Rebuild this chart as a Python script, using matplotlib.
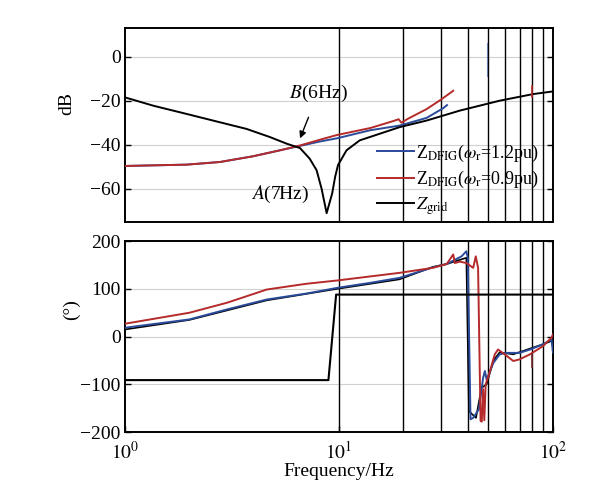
import numpy as np
import matplotlib
matplotlib.use("Agg")
from matplotlib import pyplot as plt

plt.rcParams['font.family'] = ['Liberation Serif', 'DejaVu Serif']
plt.rcParams['mathtext.fontset'] = 'stix'
plt.rcParams['axes.unicode_minus'] = True

# magnitude (dB)
f_grid = [1, 1.36, 1.94, 2.78, 3.7, 4.76, 5.7, 6.58, 7.3, 7.86, 8.3, 8.76,
          9.3, 9.6, 9.9, 10.85, 12.5, 15.5, 19.2, 25.7, 36.7, 56.4, 80.8, 100]
mag_grid = [-18.5, -22.3, -26, -29.8, -32.8, -36.5, -39.5, -41.5, -46.3,
            -51.5, -60, -71, -62, -54.5, -49.2, -42.5, -38, -35, -32, -29,
            -24.5, -20, -17, -15.8]

f_mag_red = [1, 1.94, 2.78, 3.97, 5.3, 6.58, 8.15, 9.75, 14, 18, 19, 19.6, 21,
             25.7, 30, 34.2]
mag_red = [-49.6, -49, -47.8, -45.2, -42.5, -40.3, -37.7, -35.6, -32.4, -29.2,
           -28.4, -30.0, -28.2, -23.8, -19.5, -15.5]

f_mag_blue = [1, 1.94, 2.78, 3.97, 5.3, 6.58, 8.15, 9.75, 14, 19.2, 25.7, 30.6, 32]
mag_blue = [-49.6, -49, -47.8, -45.2, -42.5, -40.5, -38.5, -37.1, -33.4,
            -31.3, -27.8, -23.5, -22]

# stray spikes
f_spike_red_mag = [79.6, 79.6]
spike_red_mag = [-13.5, -18.5]
f_spike_blue_mag = [49, 49]
spike_blue_mag = [6, -9]

# phase (deg)
f_ph_red = [1, 2, 3, 4.6, 7, 9.8, 14, 19.2, 27.5, 31.9, 34.2, 34.8, 36.7, 39.4,
            42.4, 43.6, 44.7, 45.9, 46.5, 47.2, 47.8, 48.5, 50.8, 53.5, 55.4,
            59.5, 65.3, 69.8, 78.2, 89.9, 98.5, 100]
ph_red = [27, 50, 71, 98.6, 110.5, 117.5, 126, 133.5, 144, 152, 172, 154, 157,
          154, 144, 168, 144, -176, -178, -110, -175, -100, -72, -37, -27,
          -37, -51, -47.6, -37, -19.8, -2.3, 4.6]

f_ph_blue = [1, 2, 3, 4.6, 7, 9.8, 14, 19.2, 27.5, 31.9, 37.4, 39.4, 40, 41.2,
             42.4, 45.1, 47.2, 48.1, 49, 52.7, 56.4, 60.7, 69.8, 78.2, 89.9,
             98.5, 100]
ph_blue = [18.6, 36, 57, 77.7, 90, 102, 112.6, 123, 145, 152, 168, 178.7, 165,
           -173, -170, -152, -86, -72, -90, -55, -37, -34, -34, -27, -16, -6, -33]

f_ph_dark = [1, 2, 4.6, 9.8, 19.2, 27.5, 31.9, 39.4, 40.5, 43.7, 46.4, 49, 52.7,
             56.4, 65.3, 78.2, 89.9, 100]
ph_dark = [15, 35, 76, 100, 120, 146, 152, 165, -156, -170, -107, -100, -50,
           -33, -37, -25, -16, -8]

f_ph_grid = [1, 8.93, 9.7, 100]
ph_grid = [-91, -91, 88, 88]

f_spike_red_ph = [79.5, 79.5]
spike_red_ph = [-37, -64]

labels = [r'Z$_{\mathrm{DFIG}}$($\omega_{\mathrm{r}}$=1.2pu)',
          r'Z$_{\mathrm{DFIG}}$($\omega_{\mathrm{r}}$=0.9pu)',
          r'$Z_{\mathrm{grid}}$']
c_blue = '#2a4a9a'
c_red = '#b52a2a'

fig = plt.figure(figsize=(5.96, 4.9), dpi=100)
ax1 = fig.add_axes([0.2097, 0.547, 0.718, 0.396])
ax2 = fig.add_axes([0.2097, 0.118, 0.718, 0.39])

for ax in (ax1, ax2):
    ax.set_xscale('log')
    ax.set_xlim(1, 100)
    for f in range(10, 100, 10):
        ax.axvline(f, color='black', lw=1.0, zorder=1)
    ax.tick_params(axis='both', direction='in', right=True, top=False,
                   labelsize=14, length=4, width=1, pad=3)
    ax.tick_params(axis='x', which='minor', bottom=False, top=False)
    for s in ax.spines.values():
        s.set_linewidth(1.4)

# top: magnitude
for v in [0, -20, -40, -60]:
    ax1.axhline(v, color='#d0d0d0', lw=0.8, zorder=0)
l1, = ax1.plot(f_mag_blue, mag_blue, color=c_blue, lw=1.4, zorder=3)
l2, = ax1.plot(f_mag_red, mag_red, color=c_red, lw=1.4, zorder=4)
l3, = ax1.plot(f_grid, mag_grid, color='black', lw=1.4, zorder=5)
ax1.plot(f_spike_red_mag, spike_red_mag, color=c_red, lw=1.2, zorder=6)
ax1.plot(f_spike_blue_mag, spike_blue_mag, color=c_blue, lw=0.8, alpha=0.6, zorder=2)
ax1.set_ylim(-75, 13)
ax1.set_yticks([0, -20, -40, -60])
ax1.set_xticks([1, 10, 100])
ax1.tick_params(axis='x', labelbottom=False, bottom=False)
ax1.set_ylabel('dB', fontsize=14)
ax1.yaxis.set_label_coords(-0.117, 0.613)
ax1.annotate(r'$B$(6Hz)', xy=(6.58, -37.1), xytext=(7.98, -16.8),
             fontsize=14, ha='center', va='center',
             arrowprops=dict(arrowstyle='-|>', color='black', lw=1,
                             shrinkA=8, shrinkB=0, mutation_scale=10))
ax1.text(5.3, -62.7, r'$A$(7Hz)', fontsize=14, ha='center', va='center')
ax1.legend([l1, l2, l3], labels, loc='upper left', bbox_to_anchor=(0.59, 0.41),
           frameon=False, fontsize=13, borderaxespad=0, borderpad=0,
           handlelength=2.0, handletextpad=0.15, labelspacing=0.3)

# bottom: phase
for v in [100, 0, -100]:
    ax2.axhline(v, color='#d0d0d0', lw=0.8, zorder=0)
ax2.plot(f_ph_dark, ph_dark, color='black', lw=1.2, zorder=3)
ax2.plot(f_ph_blue, ph_blue, color=c_blue, lw=1.4, zorder=4)
ax2.plot(f_ph_red, ph_red, color=c_red, lw=1.4, zorder=5)
ax2.plot(f_spike_red_ph, spike_red_ph, color='#7a2a2a', lw=1.2, zorder=5)
ax2.plot(f_ph_grid, ph_grid, color='black', lw=1.5, zorder=6)
ax2.set_ylim(-200, 200)
ax2.set_yticks([200, 100, 0, -100, -200])
ax2.set_xticks([1, 10, 100])
ax2.set_xticklabels([r'$10^0$', r'$10^1$', r'$10^2$'])
ax2.tick_params(axis='x', pad=6)
ax2.set_ylabel('(°)', fontsize=14)
ax2.yaxis.set_label_coords(-0.105, 0.64)
ax2.set_xlabel('Frequency/Hz', fontsize=14, labelpad=0)

fig.savefig('out.png', dpi=100)
